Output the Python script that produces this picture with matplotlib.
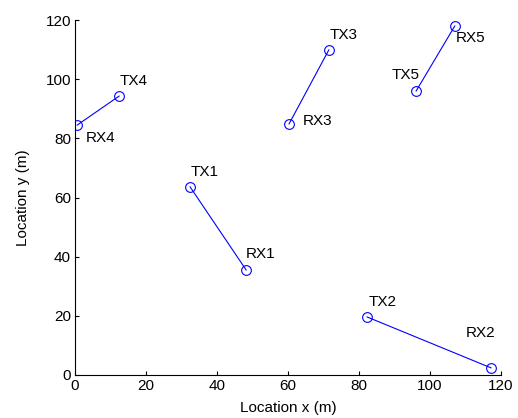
import matplotlib
matplotlib.use("Agg")
import matplotlib.pyplot as plt

# TX/RX locations (m)
links = ["1", "2", "3", "4", "5"]
tx_x = [32.4, 82.3, 71.5, 12.4, 96.1]
tx_y = [63.6, 19.6, 109.9, 94.3, 96.0]
rx_x = [48.2, 117.2, 60.3, 0.6, 107.0]
rx_y = [35.5, 2.4, 84.9, 84.5, 118.0]

# label offsets in pixels (dx, dy), screen coords
tx_off = [(1, 15), (1, 15), (1, 15), (1, 15), (-24, 16)]
rx_off = [(0, 16), (-25, 35), (14, 3), (9, -13), (1, -12)]

plt.rcParams["font.family"] = ["Liberation Sans", "DejaVu Sans"]
plt.rcParams["font.size"] = 11

fig = plt.figure(figsize=(5.18, 4.18), dpi=100)
ax = fig.add_axes([0.145, 0.103, 0.822, 0.849])

for i, k in enumerate(links):
    ax.plot([tx_x[i], rx_x[i]], [tx_y[i], rx_y[i]], color="blue", lw=0.8,
            marker="o", markersize=7, mfc="none", mew=0.8)
    ax.annotate("TX" + k, (tx_x[i], tx_y[i]), xytext=(tx_off[i][0] * 0.72, tx_off[i][1] * 0.72),
                textcoords="offset points", ha="left", va="center")
    ax.annotate("RX" + k, (rx_x[i], rx_y[i]), xytext=(rx_off[i][0] * 0.72, rx_off[i][1] * 0.72),
                textcoords="offset points", ha="left", va="center")

ax.set_xlim(0, 120)
ax.set_ylim(0, 120)
ax.set_xticks(range(0, 121, 20))
ax.set_yticks(range(0, 121, 20))
ax.tick_params(direction="in", length=3, width=0.8, pad=3)
ax.spines["top"].set_visible(False)
ax.spines["right"].set_visible(False)
ax.set_xlabel("Location x (m)", labelpad=6)
ax.set_ylabel("Location y (m)", labelpad=11)

fig.savefig("out.png", dpi=100)
